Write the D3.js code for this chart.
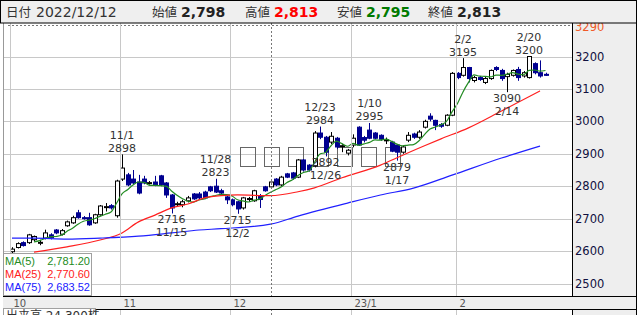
<!DOCTYPE html>
<html>
<head>
<meta charset="utf-8">
<script src="https://cdn.jsdelivr.net/npm/d3@7/dist/d3.min.js"></script>
<style>
  body { margin: 0; background: #fff; }
  svg { display: block; }
  text { font-family: "DejaVu Sans", "Noto Sans CJK JP", sans-serif; }
</style>
</head>
<body>
<div id="chart"></div>
<script>
// trading days shown on the chart
const dates = [
  "10/3","10/4","10/5","10/6","10/7","10/11","10/12","10/13","10/14","10/17",
  "10/18","10/19","10/20","10/21","10/24","10/25","10/26","10/27","10/28","10/31",
  "11/1","11/2","11/4","11/7","11/8","11/9","11/10","11/11","11/14","11/15",
  "11/16","11/17","11/18","11/21","11/22","11/24","11/25","11/28","11/29","11/30",
  "12/1","12/2","12/5","12/6","12/7","12/8","12/9","12/12","12/13","12/14",
  "12/15","12/16","12/19","12/20","12/21","12/22","12/23","12/26","12/27","12/28",
  "12/29","12/30","1/4","1/5","1/6","1/10","1/11","1/12","1/13","1/16",
  "1/17","1/18","1/19","1/20","1/23","1/24","1/25","1/26","1/27","1/30",
  "1/31","2/1","2/2","2/3","2/6","2/7","2/8","2/9","2/10","2/13",
  "2/14","2/15","2/16","2/17","2/20","2/21","2/22","2/24"
];

const open = [
  2598,2611,2626,2626,2635,2626,2640,2650,2665,2652,2678,2687,2718,2703,2703,2687,2712,2736,2740,2709,
  2822,2835,2822,2813,2822,2810,2813,2832,2810,2773,2745,2743,2755,2776,2776,2782,2798,2800,2786,2767,
  2758,2752,2733,2761,2755,2770,2798,2798,2822,2804,2838,2841,2828,2881,2865,2862,2964,2951,2936,2948,
  2924,2902,2927,2982,2950,2973,2964,2957,2942,2936,2927,2905,2942,2961,2951,2982,3016,3003,2990,2988,
  3019,3148,3142,3166,3126,3135,3120,3132,3166,3157,3138,3142,3160,3140,3135,3178,3150,3145
];
const high = [
  2612,2627,2630,2653,2648,2635,2666,2655,2668,2668,2694,2709,2727,2708,2718,2715,2742,2748,2745,2820,
  2898,2841,2850,2835,2832,2816,2832,2835,2813,2776,2752,2758,2770,2779,2782,2786,2801,2823,2792,2770,
  2762,2755,2767,2767,2789,2776,2801,2813,2825,2832,2841,2844,2884,2884,2868,2970,2984,2955,2967,2952,
  2930,2915,2960,2985,2955,2995,2967,2960,2950,2940,2930,2925,2967,2965,2973,3005,3025,3005,2995,3022,
  3152,3152,3195,3168,3140,3140,3138,3160,3170,3162,3150,3160,3168,3155,3200,3182,3188,3150
];
const low = [
  2592,2608,2614,2622,2630,2618,2636,2636,2652,2648,2675,2684,2700,2697,2678,2684,2709,2722,2728,2703,
  2816,2800,2805,2775,2806,2805,2800,2800,2764,2716,2738,2735,2750,2758,2760,2760,2782,2779,2775,2745,
  2738,2715,2728,2752,2752,2733,2783,2795,2800,2800,2825,2820,2825,2845,2845,2858,2945,2892,2930,2915,
  2905,2895,2920,2924,2935,2945,2945,2940,2930,2905,2879,2900,2936,2946,2946,2978,3000,2973,2980,2985,
  3016,3130,3138,3120,3120,3125,3115,3128,3155,3125,3090,3138,3125,3135,3132,3145,3135,3140
];
const close = [
  2606,2623,2617,2650,2645,2627,2656,2641,2656,2663,2690,2703,2703,2700,2681,2712,2739,2737,2733,2816,
  2856,2804,2810,2779,2810,2811,2804,2804,2773,2733,2746,2752,2764,2761,2764,2764,2786,2782,2779,2758,
  2743,2730,2764,2762,2786,2759,2786,2813,2804,2828,2828,2825,2881,2850,2850,2964,2951,2905,2954,2921,
  2925,2911,2948,2927,2942,2948,2948,2945,2943,2908,2905,2921,2957,2951,2967,3000,3007,2988,2985,3019,
  3148,3135,3166,3132,3135,3129,3132,3157,3160,3132,3145,3157,3135,3150,3200,3150,3140,3144
];

// moving averages (index into dates, value)
const ma25Idx = [4,10,16,20,23,26,29,32,35,38,41,47,52,55,60,67,70,75,78,83,89,96];
const ma25 = [2597,2613,2634,2656,2690,2711,2733,2745,2764,2771,2773,2771,2783,2795,2826,2865,2888,2925,2946,2980,3032,3094];
const ma75Idx = [0,4,10,16,23,29,34,38,47,52,61,67,73,80,89,96];
const ma75 = [2640,2640,2637,2640,2646,2656,2665,2669,2683,2708,2748,2773,2794,2834,2887,2924];

// legend
const maNames = ["MA(5)", "MA(25)", "MA(75)"];
const maValues = [2781.20, 2770.60, 2683.52];
const maColors = ["#228b22", "#ff2020", "#2020ff"];

// price axis
const yTicks = [2500, 2600, 2700, 2800, 2900, 3000, 3100, 3200];
const yTop = 3290;

// month ticks
const monthStarts = ["10/3", "11/1", "12/1", "1/4", "2/1"];
const monthLabels = ["10", "11", "12", "23/1", "2"];

// high / low marks
const markDates = ["11/1","11/15","11/28","12/2","12/23","12/26","1/10","1/17","2/2","2/14","2/20"];
const markTypes = ["high","low","high","low","high","low","high","low","high","low","high"];

const selDate = "12/12";
const selFull = "2022/12/12";
const volumeText = "出来高 24,300株";

const W = 641, H = 315;
const plotL = 3, plotR = 572, plotT = 23, plotB = 296;

const svg = d3.select("#chart").append("svg")
    .attr("width", W)
    .attr("height", H);

const x = d3.scaleLinear().domain([0, dates.length - 1]).range([12, 12 + 5.5 * (dates.length - 1)]);
const y = d3.scaleLinear().domain([2500, 3200]).range([283.5, 56.5]);

svg.append("defs").append("clipPath").attr("id", "plotclip")
  .append("rect").attr("x", plotL).attr("y", plotT).attr("width", plotR - plotL).attr("height", plotB - plotT);

// plot background
svg.append("rect").attr("x", plotL).attr("y", plotT).attr("width", plotR - plotL).attr("height", H - plotT)
    .attr("fill", "#fff");

const g = svg.append("g").attr("clip-path", "url(#plotclip)");

// horizontal grid
g.selectAll(".hg").data(yTicks).join("line")
    .attr("x1", plotL).attr("x2", plotR)
    .attr("y1", d => Math.round(y(d)) + 0.5).attr("y2", d => Math.round(y(d)) + 0.5)
    .attr("stroke", "#c8c8c8");

// dotted top line
g.append("line")
    .attr("x1", plotL + 5).attr("x2", plotR)
    .attr("y1", Math.round(y(yTop)) - 1.5).attr("y2", Math.round(y(yTop)) - 1.5)
    .attr("stroke", "#777").attr("stroke-dasharray", "2,2");

// vertical month grid (plot and volume panel)
const monthX = monthStarts.map(d => Math.round(x(dates.indexOf(d)) - 2) + 0.5);
[[plotT, plotB], [309, H]].forEach(([a, b]) => {
  svg.selectAll(null).data(monthX).join("line")
      .attr("x1", d => d).attr("x2", d => d)
      .attr("y1", a).attr("y2", b)
      .attr("stroke", "#c8c8c8");
  const sx = Math.round(x(dates.indexOf(selDate))) + 0.5;
  svg.append("line").attr("x1", sx).attr("x2", sx).attr("y1", a).attr("y2", b)
      .attr("stroke", "#777").attr("stroke-dasharray", "2,2");
});

// watermark glyphs (render as empty boxes in the original)
for (let k = 0; k < 7; k++) {
  g.append("rect")
      .attr("x", 240.5 + Math.round(k * 24.2)).attr("y", 147.5)
      .attr("width", 15).attr("height", 19)
      .attr("fill", "none").attr("stroke", "#666");
}

// candles
const idx = d3.range(dates.length);
const bw = 4;
const candles = g.append("g");
candles.selectAll(".wick").data(idx).join("line")
    .attr("x1", i => Math.round(x(i)) + 0.5).attr("x2", i => Math.round(x(i)) + 0.5)
    .attr("y1", i => y(high[i])).attr("y2", i => y(low[i]))
    .attr("stroke", i => close[i] >= open[i] ? "#000" : "#000090");
candles.selectAll(".body").data(idx).join("rect")
    .attr("x", i => Math.round(x(i)) - bw / 2 + 0.5)
    .attr("y", i => y(Math.max(open[i], close[i])))
    .attr("width", bw)
    .attr("height", i => Math.max(1, y(Math.min(open[i], close[i])) - y(Math.max(open[i], close[i]))))
    .attr("fill", i => close[i] >= open[i] ? "#fff" : "#000090")
    .attr("stroke", i => close[i] >= open[i] ? "#000" : "#000090");

// moving averages
const ma5 = idx.filter(i => i >= 4).map(i => [i, d3.mean(close.slice(i - 4, i + 1))]);
const line = d3.line().x(d => x(d[0])).y(d => y(d[1])).curve(d3.curveMonotoneX);
const maSeries = [
  ma5,
  ma25Idx.map((d, k) => [d, ma25[k]]),
  ma75Idx.map((d, k) => [d, ma75[k]])
];
maSeries.forEach((s, k) => {
  g.append("path").datum(s).attr("d", line)
      .attr("fill", "none").attr("stroke", maColors[k]).attr("stroke-width", 1.2);
});

// high / low labels
const fmt0 = d3.format("d");
markDates.forEach((d, k) => {
  const i = dates.indexOf(d);
  const isHigh = markTypes[k] === "high";
  const v = isHigh ? high[i] : low[i];
  const yy = y(v);
  const lines = isHigh ? [[d, yy - 15.5], [fmt0(v), yy - 2.5]] : [[fmt0(v), yy + 10], [d, yy + 23]];
  lines.forEach(([t, ty]) => {
    svg.append("text").attr("x", x(i)).attr("y", ty)
        .attr("text-anchor", "middle").attr("font-size", 11).attr("fill", "#333")
        .text(t);
  });
});

// legend box
svg.append("rect").attr("x", 3.5).attr("y", 253.5).attr("width", 88).attr("height", 42)
    .attr("fill", "#fff").attr("stroke", "#a0a0a0");
const fmt2 = d3.format(",.2f");
maNames.forEach((n, k) => {
  const ty = 265 + k * 13;
  svg.append("text").attr("x", 5).attr("y", ty).attr("font-size", 11)
      .style("font-family", "'Liberation Sans', Arial, sans-serif")
      .attr("fill", maColors[k]).text(n);
  svg.append("text").attr("x", 90).attr("y", ty).attr("font-size", 11)
      .attr("text-anchor", "end")
      .style("font-family", "'Liberation Sans', Arial, sans-serif")
      .attr("fill", maColors[k]).text(fmt2(maValues[k]));
});

// plot left border
svg.append("line").attr("x1", plotL + 0.5).attr("x2", plotL + 0.5).attr("y1", plotT).attr("y2", H)
    .attr("stroke", "#999");

// right price panel
svg.append("rect").attr("x", plotR).attr("y", plotT).attr("width", 636 - plotR).attr("height", H - plotT)
    .attr("fill", "#eeeeee");
svg.append("line").attr("x1", plotR + 0.5).attr("x2", plotR + 0.5).attr("y1", plotT).attr("y2", H)
    .attr("stroke", "#000");
svg.append("line").attr("x1", 636.5).attr("x2", 636.5).attr("y1", 0).attr("y2", H)
    .attr("stroke", "#000");
svg.selectAll(".ytl").data(yTicks).join("text")
    .attr("x", 575).attr("y", d => y(d)).attr("dy", "0.36em")
    .attr("font-size", 11.5).attr("fill", "#101040")
    .text(d => d);
svg.append("text").attr("x", 575).attr("y", y(yTop)).attr("dy", "0.36em")
    .attr("font-size", 11.5).attr("fill", "#f05a28").text(yTop);

// date band
svg.append("rect").attr("x", plotL).attr("y", plotB).attr("width", 636 - plotL).attr("height", 13)
    .attr("fill", "#eeeeee");
[plotB + 0.5, 309.5].forEach(v => {
  svg.append("line").attr("x1", plotL).attr("x2", 636).attr("y1", v).attr("y2", v).attr("stroke", "#000");
});
svg.selectAll(".xtl").data(monthLabels).join("text")
    .attr("x", (d, k) => monthX[k] + 3).attr("y", 306.5)
    .attr("font-size", 10).attr("fill", "#555")
    .text(d => d);

// volume panel label (cut off at the bottom, as in the original)
svg.append("rect").attr("x", 3.5).attr("y", 308.5).attr("width", 92).attr("height", 16)
    .attr("fill", "#fff").attr("stroke", "#a0a0a0");
svg.append("text").attr("x", 6).attr("y", 320).attr("font-size", 12).attr("fill", "#333")
    .text(volumeText);

// header
const si = dates.indexOf(selDate);
svg.append("rect").attr("x", 0.5).attr("y", 0.5).attr("width", 636).attr("height", 22.5)
    .attr("fill", "#efefef").attr("stroke", "#000");
const hdr = svg.append("g");
hdr.append("text").attr("x", 6).attr("y", 17).attr("font-size", 12.5).attr("fill", "#333").text("日付");
hdr.append("text").attr("x", 36).attr("y", 17).attr("font-size", 14).attr("fill", "#333").text(selFull);
const hLabels = ["始値", "高値", "安値", "終値"];
const hVals = [open[si], high[si], low[si], close[si]];
const hColors = ["#222", "#ff0000", "#007a00", "#222"];
const hX = [152, 245, 337, 428];
const fmtC = d3.format(",");
hLabels.forEach((l, k) => {
  hdr.append("text").attr("x", hX[k]).attr("y", 17).attr("font-size", 12.5).attr("fill", "#333").text(l);
  hdr.append("text").attr("x", hX[k] + 29).attr("y", 17).attr("font-size", 14).attr("fill", hColors[k])
      .attr("font-weight", "bold").text(fmtC(hVals[k]));
});
</script>
</body>
</html>
